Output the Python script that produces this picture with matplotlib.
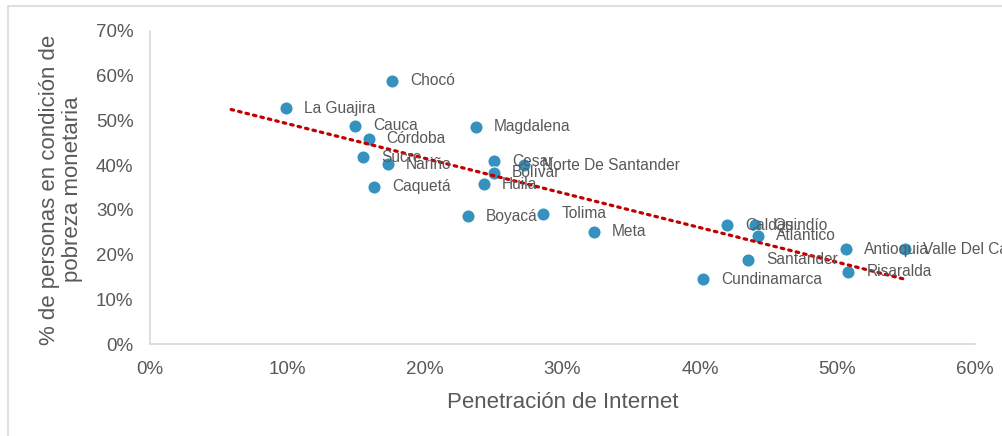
import numpy as np
import matplotlib.pyplot as plt
from matplotlib.patches import Rectangle
from matplotlib.ticker import PercentFormatter

# Departamentos de Colombia: penetración de internet vs pobreza monetaria (%)
departamentos = ['Chocó', 'La Guajira', 'Cauca', 'Córdoba', 'Magdalena', 'Sucre',
                 'Nariño', 'Caquetá', 'Cesar', 'Bolívar', 'Norte De Santander', 'Huila',
                 'Boyacá', 'Tolima', 'Meta', 'Caldas', 'Quindío', 'Atlántico',
                 'Santander', 'Cundinamarca', 'Antioquia', 'Valle Del Cauca', 'Risaralda']
internet = [17.6, 9.9, 14.9, 15.9, 23.7, 15.5,
            17.3, 16.3, 25.0, 25.0, 27.2, 24.3,
            23.1, 28.6, 32.3, 42.0, 44.0, 44.2,
            43.5, 40.2, 50.6, 54.9, 50.8]
pobreza = [58.9, 52.7, 48.8, 45.9, 48.6, 41.8,
           40.2, 35.2, 40.9, 38.3, 40.0, 35.7,
           28.6, 29.1, 25.1, 26.6, 26.6, 24.2,
           18.8, 14.5, 21.2, 21.2, 16.2]

gris = '#595959'
azul = '#3592BE'
rojo = '#C00000'

plt.rcParams['font.family'] = ['Liberation Sans', 'DejaVu Sans']

fig = plt.figure(figsize=(10.03, 4.36), dpi=100)
ax = fig.add_axes([0.1496, 0.211, 0.8224, 0.718])

x = np.array(internet) / 100
y = np.array(pobreza) / 100

# linea de tendencia (lineal, con pronostico hacia atras)
m, b = np.polyfit(x, y, 1)
xt = np.array([x.min() - 0.04, x.max()])
ax.plot(xt, m * xt + b, color=rojo, lw=2.3, linestyle=(0, (0.8, 1.6)),
        dash_capstyle='round', zorder=3)

ax.scatter(x, y, s=90, color=azul, edgecolor='white', linewidth=0.8, zorder=2)

for nombre, xi, yi in zip(departamentos, x, y):
    ax.annotate(nombre, (xi, yi), xytext=(13, 0), textcoords='offset points',
                ha='left', va='center', fontsize=11.2, color=gris, zorder=4)

ax.set_xlim(0, 0.6)
ax.set_ylim(0, 0.7)
ax.set_xticks(np.arange(0, 0.61, 0.1))
ax.set_yticks(np.arange(0, 0.71, 0.1))
ax.xaxis.set_major_formatter(PercentFormatter(1, decimals=0))
ax.yaxis.set_major_formatter(PercentFormatter(1, decimals=0))
ax.tick_params(length=0, labelsize=13.5, labelcolor=gris, pad=12)

for s in ['top', 'right']:
    ax.spines[s].set_visible(False)
for s in ['left', 'bottom']:
    ax.spines[s].set_color('#D9D9D9')
    ax.spines[s].set_linewidth(1.2)

ax.set_xlabel('Penetración de Internet', fontsize=16, color=gris, labelpad=10)
fig.text(0.061, 0.565, '% de personas en condición de\npobreza monetaria', rotation=90,
         ha='center', va='center', fontsize=16, color=gris, linespacing=1.15)

# borde del area del grafico (solo se ven el lado izquierdo y el superior)
fig.patches.append(Rectangle((8.5 / 1003, -0.1), 1.05, 1.1 - 6 / 436, transform=fig.transFigure,
                             fill=False, edgecolor='#D9D9D9', lw=1.2, clip_on=False))

fig.savefig('out.png', dpi=100)
